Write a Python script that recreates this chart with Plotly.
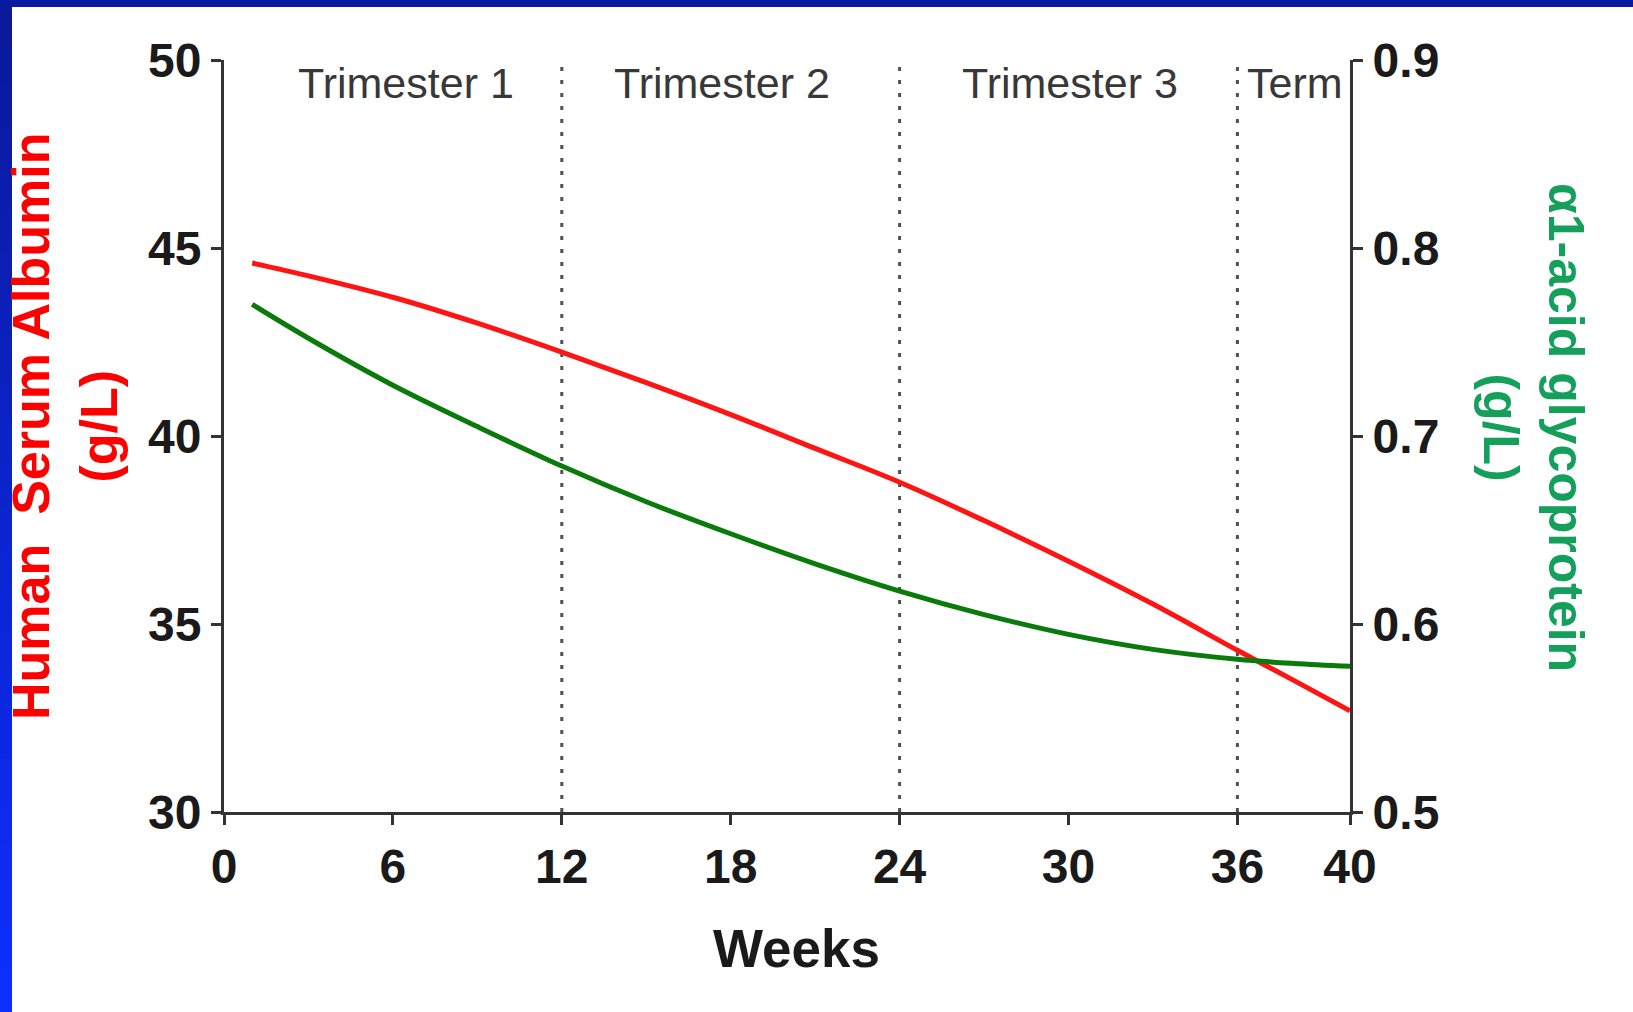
import plotly.graph_objects as go

# ---- data ----
weeks = [1, 3, 6, 9, 12, 15, 18, 21, 24, 27, 30, 33, 36, 38, 40]
albumin = [44.6, 44.26, 43.69, 43.0, 42.23, 41.42, 40.57, 39.67, 38.77, 37.75, 36.67, 35.53, 34.3, 33.5, 32.69]
agp = [0.770, 0.752, 0.727, 0.705, 0.684, 0.665, 0.648, 0.632, 0.6175, 0.605, 0.5945, 0.5865, 0.5812, 0.579, 0.5775]

x_ticks = [0, 6, 12, 18, 24, 30, 36, 40]
left_ticks = [30, 35, 40, 45, 50]
right_ticks = [0.5, 0.6, 0.7, 0.8, 0.9]
boundaries = [12, 24, 36]
period_labels = ["Trimester 1", "Trimester 2", "Trimester 3", "Term"]
period_centres = [6.47, 17.7, 30.05, 38.05]

FONT = "Liberation Sans, Arial, Helvetica, sans-serif"
RED = "#ff1414"
GREEN = "#0a7a0a"
TITLE_GREEN = "#14a05a"
AX = "#333333"

W, H = 1633, 1012
L, R, T, B = 224, 1633 - 1350, 60, 1012 - 812
PW, PH = W - L - R, H - T - B


def px_x(p):
    return (p - L) / PW


def px_y(p):
    return (H - B - p) / PH


fig = go.Figure()
fig.add_trace(go.Scatter(x=weeks, y=albumin, mode="lines",
                         line=dict(color=RED, width=5, shape="spline", smoothing=1.0),
                         showlegend=False, hoverinfo="skip"))
fig.add_trace(go.Scatter(x=weeks, y=agp, mode="lines", yaxis="y2",
                         line=dict(color=GREEN, width=5, shape="spline", smoothing=1.0),
                         showlegend=False, hoverinfo="skip"))

shapes = []
# slide background border (blue, gradient on left)
n = 24
for i in range(n):
    t = i / (n - 1)
    r = int(10 + t * (14 - 10))
    g = int(26 + t * (46 - 26))
    b = int(155 + t * (255 - 155))
    shapes.append(dict(type="rect", xref="paper", yref="paper",
                       x0=px_x(0), x1=px_x(12),
                       y0=px_y(H * (i + 1) / n + 1), y1=px_y(H * i / n),
                       line=dict(width=0), fillcolor=f"rgb({r},{g},{b})", layer="below"))
shapes.append(dict(type="rect", xref="paper", yref="paper", x0=px_x(0), x1=px_x(W),
                   y0=px_y(7), y1=px_y(0), line=dict(width=0), fillcolor="rgb(8,26,160)", layer="below"))

for bx in boundaries:
    shapes.append(dict(type="line", xref="x", yref="paper", x0=bx, x1=bx, y0=0, y1=1,
                       line=dict(color="#505050", width=3, dash="4px,9px"), layer="below"))

annotations = []
for lab, c in zip(period_labels, period_centres):
    annotations.append(dict(text=lab, x=c, y=px_y(83), xref="x", yref="paper", showarrow=False,
                            xanchor="center", yanchor="middle",
                            font=dict(family=FONT, size=43, color="#383838")))

annotations.append(dict(text="<b>Human  Serum Albumin<br>(g/L)</b>", textangle=-90,
                        x=px_x(65), y=px_y(427), xref="paper", yref="paper", showarrow=False,
                        xanchor="center", yanchor="middle",
                        font=dict(family=FONT, size=52, color="#ff0000")))
annotations.append(dict(text="<b>\u03b11-acid glycoprotein<br>(g/L)</b>", textangle=90,
                        x=px_x(1533), y=px_y(427), xref="paper", yref="paper", showarrow=False,
                        xanchor="center", yanchor="middle",
                        font=dict(family=FONT, size=50, color=TITLE_GREEN)))
annotations.append(dict(text="<b>Weeks</b>", x=px_x(796), y=px_y(948), xref="paper", yref="paper",
                        showarrow=False, xanchor="center", yanchor="middle",
                        font=dict(family=FONT, size=53, color="#1a1a1a")))

tickfont = dict(family=FONT, size=48, color="#1a1a1a")
fig.update_layout(
    width=W, height=H,
    margin=dict(l=L, r=R, t=T, b=B, pad=0),
    paper_bgcolor="white", plot_bgcolor="white",
    shapes=shapes, annotations=annotations,
    xaxis=dict(range=[0, 40], tickvals=x_ticks, ticktext=[f"<b>{v}</b>" for v in x_ticks],
               showgrid=False, zeroline=False, showline=True, linecolor=AX, linewidth=3,
               ticks="outside", ticklen=10, tickwidth=3, tickcolor=AX, tickfont=tickfont),
    yaxis=dict(range=[30, 50], tickvals=left_ticks, ticktext=[f"<b>{v}</b>" for v in left_ticks],
               showgrid=False, zeroline=False, showline=True, linecolor=AX, linewidth=3,
               ticks="outside", ticklen=10, tickwidth=3, tickcolor=AX, tickfont=tickfont),
    yaxis2=dict(range=[0.5, 0.9], tickvals=right_ticks, ticktext=[f"<b>{v:.1f}</b>" for v in right_ticks],
                overlaying="y", side="right", anchor="x",
                showgrid=False, zeroline=False, showline=True, linecolor=AX, linewidth=3,
                ticks="outside", ticklen=10, tickwidth=3, tickcolor=AX, tickfont=tickfont),
)

fig.write_html("out.html")
